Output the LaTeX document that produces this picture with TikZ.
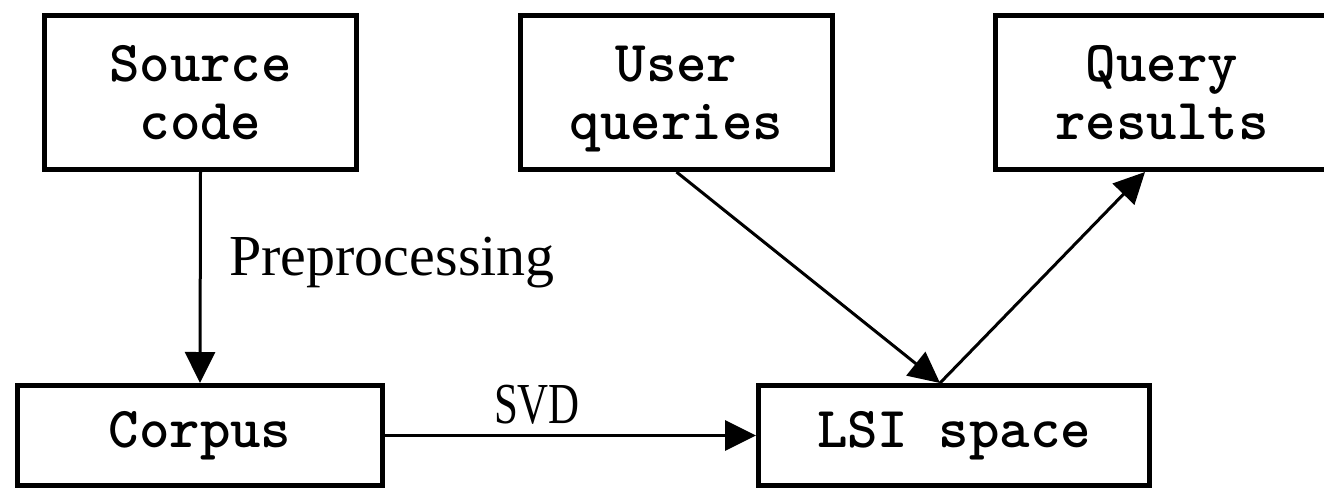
\documentclass[tikz,border=0pt]{standalone}
\usepackage{fontspec}
\setmainfont{Liberation Serif}
\usetikzlibrary{arrows.meta,positioning}
\tikzset{
	blockbox/.style={draw,line width=0.1cm,align=center,inner sep=0pt,
		font=\fontsize{33}{33}\selectfont\ttfamily\bfseries},
	flowarrow/.style={line width=0.06cm,-{Triangle[length=0.62cm,width=0.6cm]}},
	steplabel/.style={font=\fontsize{33}{38}\selectfont}
}
\begin{document}
\begin{tikzpicture}
	\useasboundingbox (0,0) rectangle (26.48,9.8);
	\clip (0,0) rectangle (26.48,9.8);
	% top row
	\node[blockbox,minimum width=6.24cm,minimum height=3.08cm] (src) at (4.01,7.95) {Source\\code};
	\node[blockbox,minimum width=6.24cm,minimum height=3.08cm] (uq) at (13.53,7.95) {User\\\smash{queries}};
	\node[blockbox,minimum width=6.66cm,minimum height=3.08cm] (qr) at (23.24,7.95) {Query\\results};
	% bottom row
	\node[blockbox,minimum width=7.3cm,minimum height=2.0cm] (corpus) at (4.0,1.09) {Corpus};
	\node[blockbox,minimum width=7.82cm,minimum height=2.0cm] (lsi) at (19.08,1.09) {LSI space};
	\coordinate (meet) at ([xshift=-0.28cm]lsi.north);
	\coordinate (qrin) at ([xshift=-0.34cm]qr.south);
	% arrows
	\draw[flowarrow] (src.south) -- (corpus.north);
	\draw[flowarrow] (corpus.east) -- (lsi.west);
	\draw[flowarrow] (uq.south) -- (meet);
	\draw[flowarrow] (meet) -- (qrin);
	\node[steplabel] (prep) at (7.84,4.55) {Preprocessing};
	\node[steplabel,xscale=0.74,transform shape] (svd) at (10.74,1.7) {SVD};
\end{tikzpicture}
\end{document}
